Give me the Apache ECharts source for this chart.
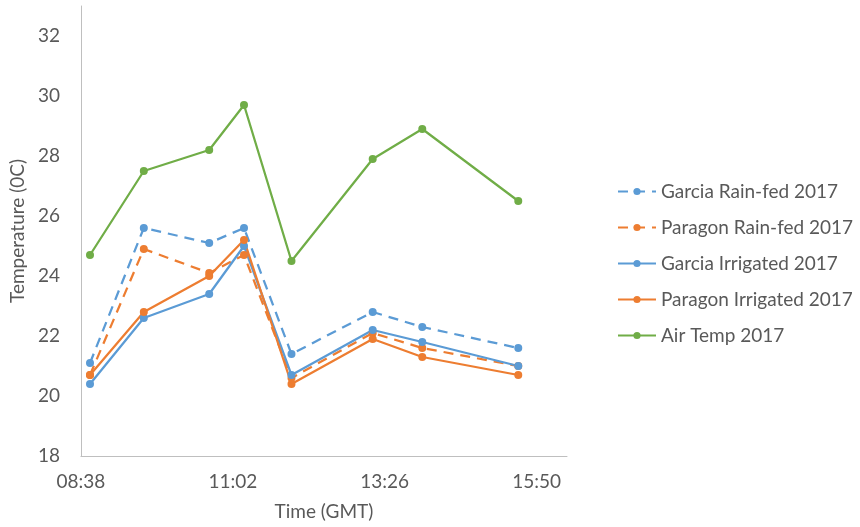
<!DOCTYPE html>
<html>
<head>
<meta charset="utf-8">
<script src="https://cdn.jsdelivr.net/npm/echarts@6/dist/echarts.min.js"></script>
<style>
html,body{margin:0;padding:0;background:#fff;}
#c{width:860px;height:527px;}
</style>
</head>
<body>
<div id="c"></div>
<script>
// Observation times (GMT)
const times = ["08:47", "09:38", "10:40", "11:13", "11:58", "13:15", "14:02", "15:33"];
// Temperatures (°C)
const garciaRainfed = [21.1, 25.6, 25.1, 25.6, 21.4, 22.8, 22.3, 21.6];
const paragonRainfed = [20.7, 24.9, 24.1, 24.7, 20.6, 22.1, 21.6, 21.0];
const garciaIrrigated = [20.4, 22.6, 23.4, 25.0, 20.7, 22.2, 21.8, 21.0];
const paragonIrrigated = [20.7, 22.8, 24.0, 25.2, 20.4, 21.9, 21.3, 20.7];
const airTemp = [24.7, 27.5, 28.2, 29.7, 24.5, 27.9, 28.9, 26.5];
const seriesNames = ["Garcia Rain-fed 2017", "Paragon Rain-fed 2017", "Garcia Irrigated 2017", "Paragon Irrigated 2017", "Air Temp 2017"];
// x-axis: Excel day-fraction axis from 0.36 to 0.68 day, major unit 0.1 day
const axisStartMin = 0.36 * 1440;   // 08:38.4
const axisEndMin = 0.68 * 1440;
const axisStepMin = 0.1 * 1440;

function toMin(t) { const p = t.split(":"); return (+p[0]) * 60 + (+p[1]); }
function fmt(m) {
  const tot = Math.floor(m + axisStartMin + 1e-6);
  const h = Math.floor(tot / 60), mm = tot % 60;
  return (h < 10 ? "0" : "") + h + ":" + (mm < 10 ? "0" : "") + mm;
}
function pairs(vals) { return times.map((t, i) => [toMin(t) - axisStartMin, vals[i]]); }

const FONT = "Lato, 'Open Sans', sans-serif";
const TXT = "#595959";
const BLUE = "#5B9BD5", ORANGE = "#ED7D31", GREEN = "#70AD47";

function mk(name, vals, color, dashed) {
  return {
    name: name, type: "line", data: pairs(vals),
    symbol: "circle", symbolSize: 8,
    lineStyle: { color: color, width: 2.25, type: dashed ? [10, 7] : "solid" },
    itemStyle: { color: color, borderWidth: 0 },
    emphasis: { disabled: true },
    animation: false
  };
}

const chart = echarts.init(document.getElementById("c"), null, { renderer: "canvas" });
chart.setOption({
  backgroundColor: "#fff",
  textStyle: { fontFamily: FONT },
  grid: { left: 77, right: 293, top: 6, bottom: 71, containLabel: false },
  xAxis: {
    type: "value", min: 0, max: axisEndMin - axisStartMin, interval: axisStepMin,
    name: "Time (GMT)", nameLocation: "middle", nameGap: 46,
    nameTextStyle: { color: TXT, fontSize: 19, fontFamily: FONT },
    axisLine: { lineStyle: { color: "#BFBFBF", width: 1 } },
    axisTick: { show: false },
    splitLine: { show: false },
    axisLabel: { color: TXT, fontSize: 19, fontFamily: FONT, margin: 16, showMaxLabel: false, formatter: v => fmt(v) }
  },
  yAxis: {
    type: "value", min: 18, max: 33, interval: 2,
    name: "Temperature (0C)", nameLocation: "middle", nameGap: 48,
    nameTextStyle: { color: TXT, fontSize: 19, fontFamily: FONT },
    axisLine: { show: true, lineStyle: { color: "#BFBFBF", width: 1 } },
    axisTick: { show: false },
    splitLine: { show: false },
    axisLabel: { color: TXT, fontSize: 19, fontFamily: FONT, margin: 21, showMaxLabel: false }
  },
  legend: {
    orient: "vertical", left: 617, top: 182, padding: 0,
    itemWidth: 38, itemHeight: 9, itemGap: 17,
    textStyle: { color: TXT, fontSize: 19, fontFamily: FONT, padding: [0, 0, 0, 0] },
    data: seriesNames
  },
  series: [
    mk(seriesNames[0], garciaRainfed, BLUE, true),
    mk(seriesNames[1], paragonRainfed, ORANGE, true),
    mk(seriesNames[2], garciaIrrigated, BLUE, false),
    mk(seriesNames[3], paragonIrrigated, ORANGE, false),
    mk(seriesNames[4], airTemp, GREEN, false)
  ]
});
</script>
</body>
</html>
